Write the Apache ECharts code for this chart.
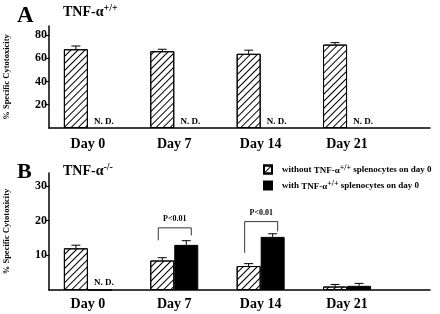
<!DOCTYPE html>
<html>
<head>
<meta charset="utf-8">
<script src="https://cdn.jsdelivr.net/npm/echarts@6/dist/echarts.min.js"></script>
<style>
  html, body { margin: 0; padding: 0; background: #fff; }
  #chart { width: 440px; height: 314px; }
</style>
</head>
<body>
<div id="chart"></div>
<script>
// categories
const days = ["Day 0", "Day 7", "Day 14", "Day 21"];
const dayPos = [0, 1, 2, 3];

// panel A (TNF+/+), only "without" group measured
const aWithout = [67.7, 66.0, 63.8, 71.7];
const aWithoutErr = [70.5, 67.7, 66.9, 73.4];
const aND = [true, true, true, true];

// panel B (TNF-/-)
const bWithout = [12.0, 8.5, 6.9, 1.0];
const bWithoutErr = [12.9, 9.3, 7.6, 1.6];
const bWith = [0, 13.0, 15.3, 1.2];
const bWithErr = [null, 14.2, 16.2, 1.9];
const bND = [true, false, false, false];

// significance brackets (panel B)
const pDay = [1, 2];
const pTop = [17.9, 19.7];
const pLeftEnd = [14.3, 10.7];
const pRightEnd = [15.7, 16.9];
const pText = ["P<0.01", "P<0.01"];

// tick labels
const yTicksA = [20, 40, 60, 80];
const yTicksB = [10, 20, 30];

const nameWithout = "without TNF-α+/+ splenocytes on day 0";
const nameWith = "with TNF-α+/+ splenocytes on day 0";

const FONT = "Liberation Serif";
const BAR_W = 24;

const hatch = {
  symbol: "rect",
  symbolSize: 1,
  color: "#000",
  dashArrayX: [1, 0],
  dashArrayY: [1, 4],
  rotation: -Math.PI / 4,
};

const chart = echarts.init(document.getElementById("chart"));

function xAxisOpt(gridIndex, margin) {
  return {
    type: "value",
    gridIndex: gridIndex,
    min: -0.45,
    max: 3.96,
    splitLine: { show: false },
    axisTick: { show: false },
    axisLine: { show: true, onZero: false, lineStyle: { color: "#000", width: 1.5 } },
    axisLabel: {
      customValues: dayPos,
      formatter: (v) => days[v],
      margin: margin,
      color: "#000",
      fontFamily: FONT,
      fontWeight: "bold",
      fontSize: 14,
    },
  };
}

function yAxisOpt(gridIndex, max, ticks) {
  return {
    type: "value",
    gridIndex: gridIndex,
    min: 0,
    max: max,
    name: "% Specific Cytotoxicity",
    nameLocation: "middle",
    nameRotate: 90,
    nameGap: 38,
    nameTextStyle: { color: "#000", fontFamily: FONT, fontWeight: "bold", fontSize: 8.5 },
    splitLine: { show: false },
    axisLine: { show: true, onZero: false, lineStyle: { color: "#000", width: 1.5 } },
    axisTick: { show: true, customValues: ticks, length: 4, lineStyle: { color: "#000", width: 1.2 } },
    axisLabel: {
      customValues: ticks,
      margin: 2,
      color: "#000",
      fontFamily: FONT,
      fontWeight: "bold",
      fontSize: 12,
    },
  };
}

function pairs(vals) {
  return vals.map((v, i) => [dayPos[i], v]);
}

function ndSeries(name, idx, vals, nd, style) {
  return {
    name: name,
    type: "bar",
    xAxisIndex: idx,
    yAxisIndex: idx,
    barWidth: BAR_W,
    barGap: "0%",
    itemStyle: style,
    data: vals.map((v, i) => ({
      value: [dayPos[i], v],
      label: {
        show: nd[i],
        position: "top",
        distance: 2,
        offset: [4, 0],
        formatter: "N. D.",
        color: "#000",
        fontFamily: FONT,
        fontWeight: "bold",
        fontSize: 9,
      },
    })),
  };
}

function errSeries(idx, tops, bases, side) {
  const data = [];
  tops.forEach((t, i) => {
    if (t != null) data.push([dayPos[i], t, bases[i], side]);
  });
  return {
    type: "custom",
    xAxisIndex: idx,
    yAxisIndex: idx,
    silent: true,
    z: 5,
    data: data,
    renderItem: (params, api) => {
      const top = api.coord([api.value(0), api.value(1)]);
      const base = api.coord([api.value(0), api.value(2)]);
      const cx = top[0] + api.value(3) * BAR_W / 2;
      const st = { stroke: "#000", lineWidth: 1 };
      return {
        type: "group",
        children: [
          { type: "line", shape: { x1: cx, y1: base[1], x2: cx, y2: top[1] }, style: st },
          { type: "line", shape: { x1: cx - 4.5, y1: top[1], x2: cx + 4.5, y2: top[1] }, style: st },
        ],
      };
    },
  };
}

const bracketData = pDay.map((d, i) => [d, pTop[i], pLeftEnd[i], pRightEnd[i], pText[i]]);

const titleRich = {
  m: { color: "#000", fontFamily: FONT, fontWeight: "bold", fontSize: 14, verticalAlign: "bottom", padding: [2, 0, 0, 0] },
  s: { color: "#000", fontFamily: FONT, fontWeight: "bold", fontSize: 10, verticalAlign: "top" },
};

const option = {
  animation: false,
  backgroundColor: "#fff",
  title: [
    { text: "A", left: 12, top: 0, textStyle: { color: "#000", fontFamily: FONT, fontWeight: "bold", fontSize: 23 } },
    { text: "{m|TNF-α}{s|+/+}", left: 58, top: -2, textStyle: { rich: titleRich } },
    { text: "B", left: 12, top: 156, textStyle: { color: "#000", fontFamily: FONT, fontWeight: "bold", fontSize: 22 } },
    { text: "{m|TNF-α}{s|-/-}", left: 58, top: 157, textStyle: { rich: titleRich } },
  ],
  legend: {
    data: [nameWithout, nameWith],
    orient: "vertical",
    left: 258,
    top: 159,
    itemWidth: 8,
    itemHeight: 8,
    itemGap: 5,
    icon: "rect",
    selectedMode: false,
    formatter: (n) => n.replace("TNF-α+/+", "{t|TNF-α}{s|+/+}"),
    textStyle: {
      color: "#000",
      fontFamily: FONT,
      fontWeight: "bold",
      fontSize: 9,
      padding: [0, 0, 0, 5],
      rich: {
        t: { color: "#000", fontFamily: FONT, fontWeight: "bold", fontSize: 9, verticalAlign: "bottom", padding: [2, 0, 0, 0] },
        s: { color: "#000", fontFamily: FONT, fontWeight: "bold", fontSize: 8, verticalAlign: "top" },
      },
    },
  },
  grid: [
    { left: 49, right: 10, top: 26, height: 102, outerBoundsMode: "none" },
    { left: 49, right: 10, top: 173, height: 117, outerBoundsMode: "none" },
  ],
  xAxis: [xAxisOpt(0, 9), xAxisOpt(1, 7)],
  yAxis: [yAxisOpt(0, 87.7, yTicksA), yAxisOpt(1, 33.7, yTicksB)],
  series: [
    {
      name: "A " + nameWithout,
      type: "bar",
      xAxisIndex: 0,
      yAxisIndex: 0,
      barWidth: BAR_W,
      barGap: "0%",
      itemStyle: { color: "#fff", borderColor: "#000", borderWidth: 1, decal: hatch },
      data: pairs(aWithout),
    },
    ndSeries("A nd", 0, aND.map(() => 0), aND, { color: "rgba(0,0,0,0)" }),
    {
      name: nameWithout,
      type: "bar",
      xAxisIndex: 1,
      yAxisIndex: 1,
      barWidth: BAR_W,
      barGap: "0%",
      itemStyle: { color: "#fff", borderColor: "#000", borderWidth: 1, decal: hatch },
      data: pairs(bWithout),
    },
    ndSeries(nameWith, 1, bWith, bND, { color: "#000", borderColor: "#000", borderWidth: 1 }),
    errSeries(0, aWithoutErr, aWithout, -1),
    errSeries(1, bWithoutErr, bWithout, -1),
    errSeries(1, bWithErr, bWith, 1),
    {
      type: "custom",
      xAxisIndex: 1,
      yAxisIndex: 1,
      silent: true,
      z: 5,
      data: bracketData,
      renderItem: (params, api) => {
        const x = api.value(0);
        const top = api.coord([x, api.value(1)]);
        const l = api.coord([x, api.value(2)]);
        const r = api.coord([x, api.value(3)]);
        const lx = top[0] - 16;
        const rx = top[0] + 17;
        return {
          type: "group",
          children: [
            {
              type: "polyline",
              shape: { points: [[lx, l[1]], [lx, top[1]], [rx, top[1]], [rx, r[1]]] },
              style: { stroke: "#000", lineWidth: 0.8, fill: null },
            },
            {
              type: "text",
              style: {
                text: bracketData[params.dataIndex][4],
                x: (lx + rx) / 2,
                y: top[1] - 5,
                align: "center",
                verticalAlign: "bottom",
                fill: "#000",
                font: "bold 8px " + FONT,
              },
            },
          ],
        };
      },
    },
  ],
};

chart.setOption(option);
</script>
</body>
</html>
